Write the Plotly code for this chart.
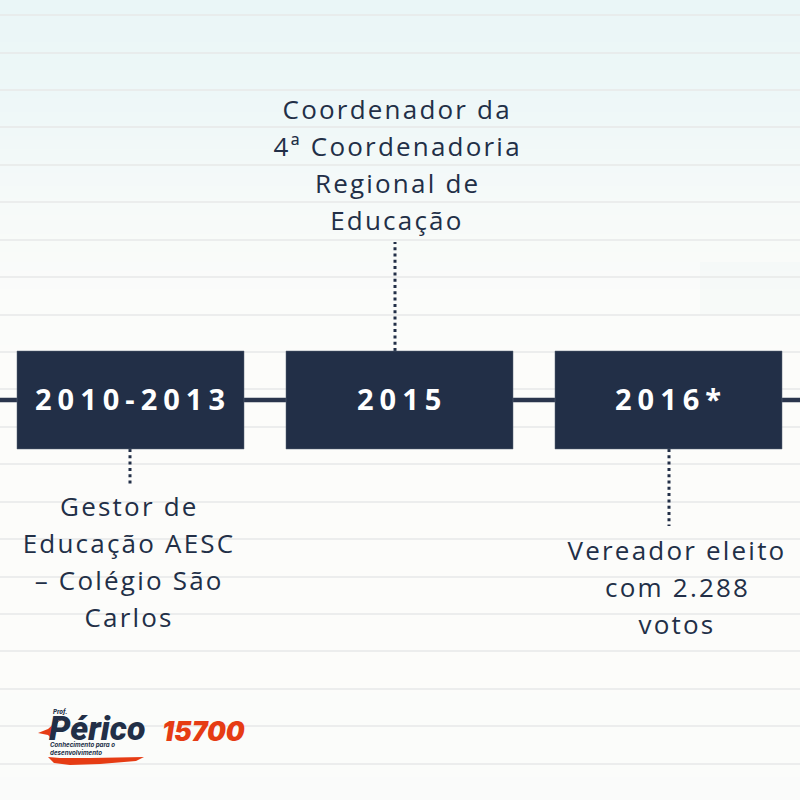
import plotly.graph_objects as go

NAVY = "#222f47"
ORANGE = "#e63c14"

# background tone from top to bottom of the page
bg_y = [0, 100, 200, 300, 400, 500, 600, 700, 800]
bg_tone = [0, 0.2, 0.65, 0.95, 1, 1, 1, 0.97, 0.9]
ruled_y = [15, 53, 90, 127, 165, 202, 240, 277, 315, 352, 389, 427, 464, 502, 539, 577, 614, 651, 689, 726, 764]

# faint tinted patch at the right edge of the background
patch_x = [700, 800, 800, 700, 700]
patch_y = [262, 262, 315, 315, 262]

years = ["2010-2013", "2015", "2016*"]
box_left = [17, 286, 555]
box_right = [244, 513, 782]
timeline_y = 400
box_top = 351
box_bottom = 449

stem_x = [130, 395, 669]
stem_start = [449, 351, 449]
stem_end = [484, 242, 526]

text_lines = [
    ["Gestor de", "Educação AESC", "– Colégio São", "Carlos"],
    ["Coordenador da", "4ª Coordenadoria", "Regional de", "Educação"],
    ["Vereador eleito", "com 2.288", "votos"],
]
text_x = [129, 397, 677]
text_first_y = [506, 108.5, 550]
line_gap = 37

swoosh_x = [38, 48, 56, 66, 58, 54, 51, 48]
swoosh_y = [733, 729, 722, 717, 722, 730, 738, 735]
brush_x = [48, 60, 90, 144, 136, 100, 70, 54]
brush_y = [757, 758, 758, 757, 761, 764, 765, 763]

fig = go.Figure()

fig.add_trace(go.Heatmap(
    x=[0, 800], y=bg_y, z=[[t, t] for t in bg_tone],
    colorscale=[[0, "#eaf6f7"], [1, "#fcfcfa"]], zmin=0, zmax=1,
    zsmooth="best", showscale=False, hoverinfo="skip",
))

fig.add_trace(go.Scatter(x=patch_x, y=patch_y, mode="lines", fill="toself", fillcolor="rgba(225,238,240,0.14)",
                         line=dict(width=0), hoverinfo="skip"))

for y in ruled_y:
    fig.add_trace(go.Scatter(x=[0, 800], y=[y, y], mode="lines", line=dict(color="#e7e9e9", width=1.4), hoverinfo="skip"))

fig.add_trace(go.Scatter(x=[0, 800], y=[timeline_y, timeline_y], mode="lines", line=dict(color="#2a354c", width=4.5), hoverinfo="skip"))

for i in range(len(years)):
    fig.add_trace(go.Scatter(
        x=[stem_x[i], stem_x[i]], y=[stem_start[i], stem_end[i]], mode="lines",
        line=dict(color=NAVY, width=3, dash="3px,3.3px"), hoverinfo="skip",
    ))
    fig.add_trace(go.Scatter(
        x=[box_left[i], box_right[i], box_right[i], box_left[i], box_left[i]],
        y=[box_top, box_top, box_bottom, box_bottom, box_top],
        mode="lines", fill="toself", fillcolor=NAVY, line=dict(width=0.5, color="#5a6577"), hoverinfo="skip",
    ))
    fig.add_annotation(
        x=(box_left[i] + box_right[i]) / 2 + 2, y=timeline_y - 2, text=years[i], showarrow=False,
        font=dict(family="Open Sans", size=29, color="white", weight=700),
    )
    for j, line in enumerate(text_lines[i]):
        fig.add_annotation(
            x=text_x[i], y=text_first_y[i] + j * line_gap, text=line, showarrow=False,
            font=dict(family="Open Sans", size=26, color=NAVY),
        )

fig.add_trace(go.Scatter(x=swoosh_x, y=swoosh_y, mode="lines", fill="toself", fillcolor=ORANGE, line=dict(width=0), hoverinfo="skip"))
fig.add_trace(go.Scatter(x=brush_x, y=brush_y, mode="lines", fill="toself", fillcolor=ORANGE, line=dict(width=0), hoverinfo="skip"))

fig.add_annotation(x=51, y=711, text="Prof.", showarrow=False, xanchor="left",
                   font=dict(family="Inter", size=6, color=NAVY, weight=800, style="italic"))
fig.add_annotation(x=47, y=728, text="Périco", showarrow=False, xanchor="left",
                   font=dict(family="Roboto", size=34, color=NAVY, weight=900, style="italic"))
fig.add_annotation(x=48, y=748, text="Conhecimento para o<br>desenvolvimento", showarrow=False, xanchor="left", align="left",
                   font=dict(family="Inter", size=6.2, color=NAVY, weight=700, style="italic"))
fig.add_annotation(x=160, y=731, text="15700", showarrow=False, xanchor="left",
                   font=dict(family="Inter", size=26.5, color=ORANGE, weight=900, style="italic"))

fig.update_xaxes(range=[0, 800], visible=False, fixedrange=True)
fig.update_yaxes(range=[800, 0], visible=False, fixedrange=True)
fig.update_layout(width=800, height=800, margin=dict(l=0, r=0, t=0, b=0), showlegend=False,
                  paper_bgcolor="#fcfcfa", plot_bgcolor="#fcfcfa")

# plotly has no letter spacing option, so it is set on the page after drawing
spacing = """
document.body.style.margin = '0';
var gd = document.querySelector('.plotly-graph-div');
function spaceText() {
  document.querySelectorAll('.annotation-text').forEach(function (t) {
    var s = t.style.fontSize;
    if (s === '29px') t.style.letterSpacing = '6px';
    if (s === '26px') t.style.letterSpacing = '2.2px';
  });
}
spaceText();
gd.on('plotly_afterplot', spaceText);
"""
fig.write_html("out.html", post_script=spacing, config={"displayModeBar": False})
